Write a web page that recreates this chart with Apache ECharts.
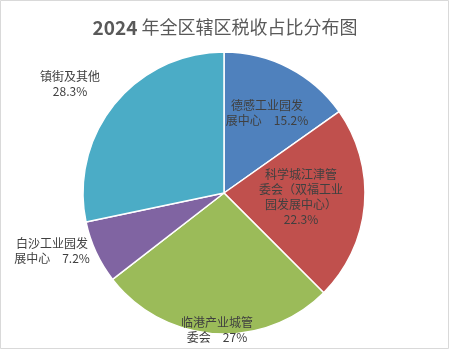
<!DOCTYPE html>
<html>
<head>
<meta charset="utf-8">
<script src="https://cdn.jsdelivr.net/npm/echarts@6/dist/echarts.min.js"></script>
<style>html,body{margin:0;padding:0;background:#fff}#c{width:450px;height:350px}</style>
</head>
<body>
<div id="c"></div>
<script>
var titleYear = '2024';
var titleText = ' 年全区辖区税收占比分布图';
var categories = ['德感工业园发展中心', '科学城江津管委会（双福工业园发展中心）', '临港产业城管委会', '白沙工业园发展中心', '镇街及其他'];
var labelNames = ['德感工业园发\n展中心　', '科学城江津管\n委会（双福工业\n园发展中心）\n', '临港产业城管\n委会　', '白沙工业园发\n展中心　', '镇街及其他\n'];
var values = [15.2, 22.3, 27, 7.2, 28.3];
var colors = ['#4F81BD', '#C0504D', '#9BBB59', '#8064A2', '#4BACC6'];
var labelPos = [[267, 113], [301, 197], [217, 330], [52, 251], [70, 84]];

var ff = '"Noto Sans CJK SC", "DejaVu Sans", sans-serif';
var chart = echarts.init(document.getElementById('c'), null, {renderer: 'canvas'});
var data = categories.map(function (n, i) {
  return {name: n, value: values[i], itemStyle: {color: colors[i]}};
});
chart.setOption({
  animation: false,
  backgroundColor: '#fff',
  title: {
    text: '{y|' + titleYear + '}{t|' + titleText + '}',
    left: 'center',
    top: 13,
    textStyle: {
      fontFamily: ff, fontSize: 18, color: '#595959',
      rich: {
        y: {fontFamily: ff, fontSize: 19, fontWeight: 'bold', color: '#595959'},
        t: {fontFamily: ff, fontSize: 18, fontWeight: 'normal', color: '#595959'}
      }
    }
  },
  graphic: [{
    type: 'rect', shape: {x: 0.5, y: 0.5, width: 448, height: 348},
    style: {fill: 'none', stroke: '#d9d9d9', lineWidth: 1}, silent: true, z: 100
  }],
  series: [{
    type: 'pie',
    center: [224, 193],
    radius: [0, 141],
    startAngle: 90,
    clockwise: true,
    data: data,
    itemStyle: {borderColor: '#fff', borderWidth: 1.5},
    label: {
      show: true,
      position: 'inside',
      formatter: function (p) { return labelNames[p.dataIndex] + p.value + '%'; },
      fontFamily: ff,
      fontSize: 12,
      lineHeight: 15,
      color: '#404040',
      align: 'center'
    },
    labelLine: {show: false},
    labelLayout: function (params) {
      var p = labelPos[params.dataIndex];
      return {x: p[0], y: p[1], align: 'center', verticalAlign: 'middle'};
    },
    emphasis: {disabled: true}
  }]
});
</script>
</body>
</html>
